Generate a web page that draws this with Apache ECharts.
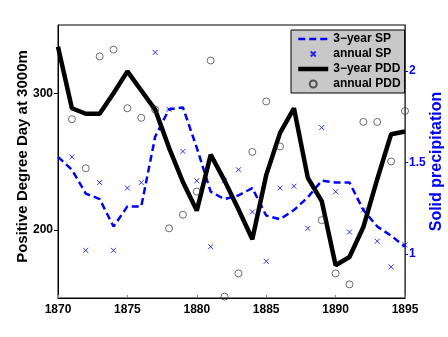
<!DOCTYPE html>
<html>
<head>
<meta charset="utf-8">
<script src="https://cdn.jsdelivr.net/npm/echarts@6/dist/echarts.min.js"></script>
<style>html,body{margin:0;padding:0;background:#fff}#c{width:448px;height:337px}</style>
</head>
<body>
<div id="c"></div>
<script>
var years = [1870,1871,1872,1873,1874,1875,1876,1877,1878,1879,1880,1881,1882,1883,1884,1885,1886,1887,1888,1889,1890,1891,1892,1893,1894,1895];
var pdd3 = [334,289,285,285,300,316,302,288,260,235,214,255,236,215,193,240,271,289,238,221,174,180,202,237,270,272];
var pddAnnual = [null,281,245,327,332,289,282,288,201,211,228,324,151,168,257,294,261,null,null,207,168,160,279,279,250,287];
var sp3 = [1.53,1.46,1.33,1.30,1.15,1.26,1.26,1.64,1.79,1.80,1.58,1.34,1.30,1.32,1.36,1.21,1.19,1.24,1.31,1.40,1.39,1.39,1.24,1.15,1.10,1.04];
var spAnnual = [null,1.53,1.02,1.39,1.02,1.36,1.39,2.10,1.79,1.56,1.40,1.04,1.40,1.46,1.23,0.96,1.36,1.37,1.14,1.69,1.34,1.12,1.24,1.07,0.93,1.05];
var xTicks = [1870,1875,1880,1885,1890,1895];
var leftTicks = [200,300];
var rightTicks = [1,1.5,2];

function pairs(v){ return years.map(function(y,i){ return v[i]==null ? null : [y, v[i]]; }).filter(function(p){return p;}); }

var FONT = 'Liberation Sans';
var XMARK = 'path://M-2,-2Z M12,12Z M0,0L10,10M10,0L0,10';
var chart = echarts.init(document.getElementById('c'), null, {renderer:'canvas'});
chart.setOption({
  animation:false,
  backgroundColor:'#fff',
  grid:{left:58,right:43,top:25,bottom:39,containLabel:false,outerBoundsMode:'none',show:true,borderColor:'#000',borderWidth:1,backgroundColor:'#fff'},
  legend:{
    left:291, top:30, orient:'vertical',
    backgroundColor:'#c8c8c8', borderColor:'#000', borderWidth:1,
    padding:[3,4,3,5], itemWidth:30, itemHeight:7, itemGap:3,
    textStyle:{fontFamily:FONT,fontWeight:'bold',fontSize:12,color:'#000',lineHeight:12},
    data:[
      {name:'3\u2212year SP', lineStyle:{width:2.5,type:[7,4],color:'#0000ff'}, itemStyle:{color:'rgba(0,0,0,0)',borderWidth:0}},
      {name:'annual SP'},
      {name:'3\u2212year PDD', lineStyle:{width:4.5,color:'#000'}, itemStyle:{color:'rgba(0,0,0,0)',borderWidth:0}},
      {name:'annual PDD'}
    ]
  },
  xAxis:{
    type:'value', min:1870, max:1895, interval:5,
    axisLine:{show:true,lineStyle:{color:'#000',width:1}},
    axisTick:{show:true,inside:true,length:3,lineStyle:{color:'#888'}},
    axisLabel:{fontFamily:FONT,fontWeight:'bold',fontSize:12,color:'#000',margin:6,showMinLabel:true,showMaxLabel:true,
      formatter:function(v){return String(v);}},
    splitLine:{show:false}
  },
  yAxis:[
    {
      type:'value', position:'left', min:150, max:350,
      name:'Positive Degree Day at 3000m', nameLocation:'middle', nameGap:28, nameRotate:90, nameMoveOverlap:false,
      nameTextStyle:{fontFamily:FONT,fontWeight:'bold',fontSize:15,color:'#000',padding:[0,0,0,10]},
      axisLine:{show:true,lineStyle:{color:'#000',width:1}},
      axisTick:{show:true,length:4,customValues:leftTicks,lineStyle:{color:'#000'}},
      axisLabel:{customValues:leftTicks,hideOverlap:false,showMinLabel:true,showMaxLabel:true,fontFamily:FONT,fontWeight:'bold',fontSize:12,color:'#000',margin:5},
      splitLine:{show:false}
    },
    {
      type:'value', position:'right', min:0.76, max:2.25,
      name:'Solid precipitation', nameLocation:'middle', nameGap:24, nameRotate:90, nameMoveOverlap:false,
      nameTextStyle:{fontFamily:FONT,fontWeight:'bold',fontSize:16,color:'#0000ff'},
      axisLine:{show:true,lineStyle:{color:'#3c3ca8',width:1}},
      axisTick:{show:true,length:3,customValues:rightTicks,lineStyle:{color:'#0000ff'}},
      axisLabel:{customValues:rightTicks,hideOverlap:false,showMinLabel:true,showMaxLabel:true,fontFamily:FONT,fontWeight:'bold',fontSize:12,color:'#0000ff',margin:4},
      splitLine:{show:false}
    }
  ],
  series:[
    {name:'3\u2212year SP', type:'line', yAxisIndex:1, data:pairs(sp3), symbol:'none', z:2,
     lineStyle:{color:'#0000ff',width:2.5,type:[7,4]}, itemStyle:{color:'#0000ff'}},
    {name:'annual SP', type:'scatter', yAxisIndex:1, data:pairs(spAnnual), symbol:XMARK, symbolSize:7, z:3,
     itemStyle:{color:'rgba(0,0,0,0)',borderColor:'#0000ff',borderWidth:1}},
    {name:'3\u2212year PDD', type:'line', yAxisIndex:0, data:pairs(pdd3), symbol:'none', z:4,
     lineStyle:{color:'#000',width:4.5}, itemStyle:{color:'#000'}},
    {name:'annual PDD', type:'scatter', yAxisIndex:0, data:pairs(pddAnnual), symbol:'circle', symbolSize:7, z:5,
     itemStyle:{color:'rgba(0,0,0,0)',borderColor:'#333',borderWidth:0.9}}
  ]
});
</script>
</body>
</html>
